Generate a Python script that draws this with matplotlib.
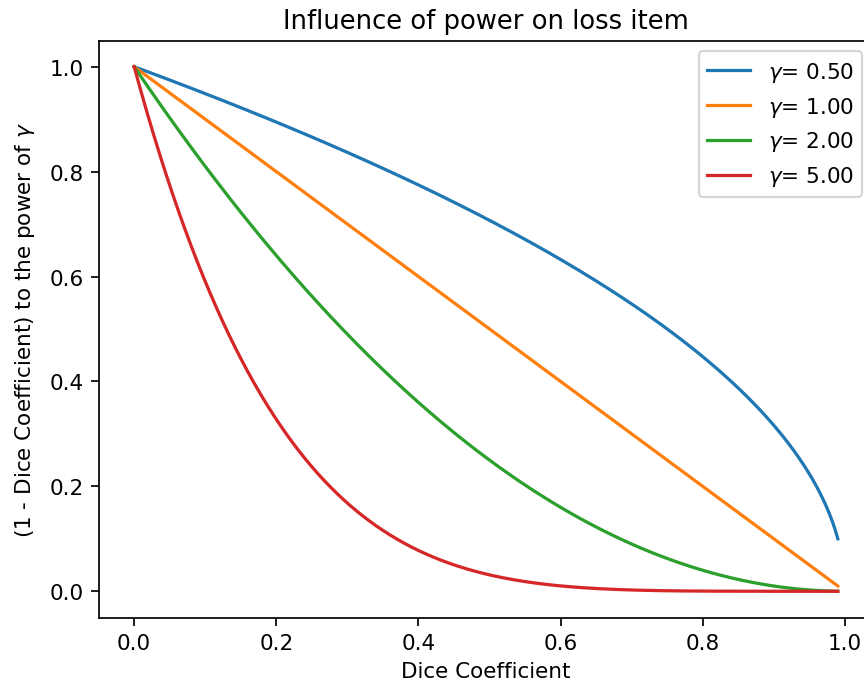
import numpy as np
import matplotlib
matplotlib.use('Agg')
import matplotlib.pyplot as plt

# powers shown in the legend, dice coefficient range on the x axis
gammas = [0.5, 1.0, 2.0, 5.0]
dice_start = 0.0
dice_stop = 0.99
n_samples = 1000

dice = np.linspace(dice_start, dice_stop, n_samples)

# default matplotlib styling, just rendered at a higher dpi
dpi = 155
W, H = 864, 685
fig = plt.figure(figsize=(W / dpi, H / dpi), dpi=dpi)
# axes spans past the right edge of the picture (original was cropped)
ax = fig.add_axes([99 / W, 1 - 618.5 / H, 774 / W, 577 / H])

for g in gammas:
    ax.plot(dice, (1 - dice) ** g, label=r'$\gamma$= %.2f' % g)

ax.set_title('Influence of power on loss item')
ax.set_xlabel('Dice Coefficient')
ax.set_ylabel(r'(1 - Dice Coefficient) to the power of $\gamma$', labelpad=6)
ax.legend()

fig.savefig('out.png', dpi=dpi)
